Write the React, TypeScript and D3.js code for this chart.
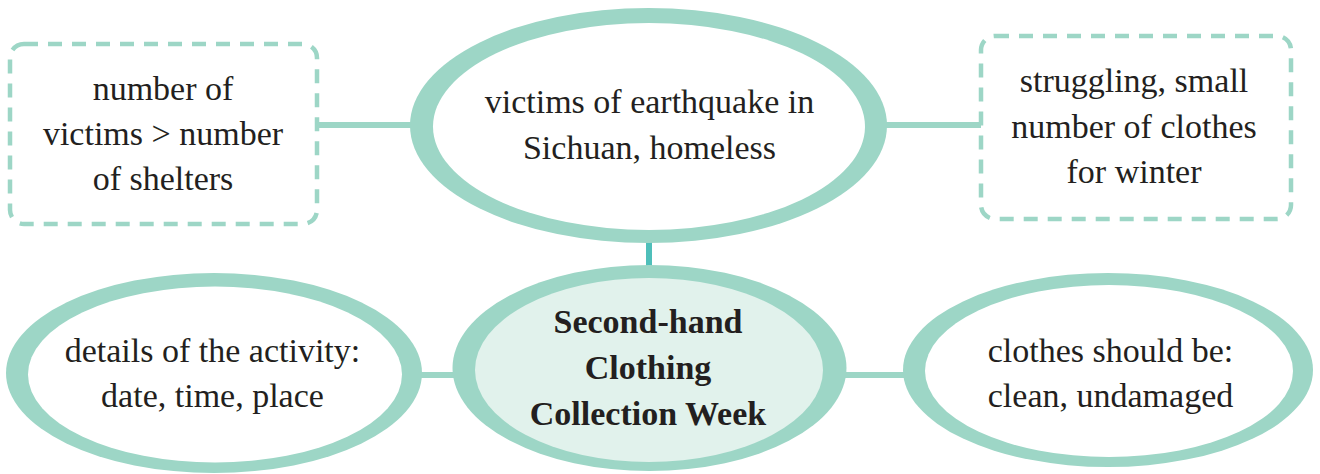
import React, { useEffect, useRef } from "react";
import * as d3 from "d3";

// ---- content ----
const boxLeftLines = ["number of", "victims > number", "of shelters"];
const boxRightLines = ["struggling, small", "number of clothes", "for winter"];
const topLines = ["victims of earthquake in", "Sichuan, homeless"];
const centerLines = ["Second-hand", "Clothing", "Collection Week"];
const bottomLeftLines = ["details of the activity:", "date, time, place"];
const bottomRightLines = ["clothes should be:", "clean, undamaged"];

const W = 1320;
const H = 474;
const TEAL = "#9dd6c6";
const DARK_TEAL = "#4fbfba";
const INK = "#231f20";
const FONT = '"Liberation Serif", "Times New Roman", monospace';

type Ring = { cx: number; cy: number; orx: number; ory: number; icx: number; icy: number; irx: number; iry: number; fill: string };

const rings: Ring[] = [
  { cx: 648.5, cy: 125.5, orx: 238.5, ory: 117.5, icx: 649, icy: 126.5, irx: 216, iry: 103.5, fill: "#ffffff" },
  { cx: 649.5, cy: 368, orx: 197, ory: 103, icx: 649, icy: 370, irx: 174, iry: 92, fill: "#e1f2ec" },
  { cx: 214, cy: 373, orx: 208, ory: 100, icx: 215, icy: 374.5, irx: 187, iry: 88, fill: "#ffffff" },
  { cx: 1108, cy: 370, orx: 205, ory: 97, icx: 1109, icy: 371, irx: 184, iry: 86, fill: "#ffffff" },
];

const blocks = [
  { lines: boxLeftLines, x: 163, y0: 100, step: 45, bold: false },
  { lines: boxRightLines, x: 1134, y0: 92, step: 45.5, bold: false },
  { lines: topLines, x: 649.5, y0: 113, step: 46, bold: false },
  { lines: centerLines, x: 648, y0: 333, step: 46, bold: true },
  { lines: bottomLeftLines, x: 212.5, y0: 362, step: 45, bold: false },
  { lines: bottomRightLines, x: 1110.5, y0: 362, step: 45, bold: false },
];

export default function App() {
  const ref = useRef<SVGGElement>(null);
  useEffect(() => {
    const g = d3.select(ref.current);
    g.selectAll("*").remove();
    blocks.forEach((b) => {
      const y = d3.scaleLinear().domain([0, 1]).range([b.y0, b.y0 + b.step]);
      g.append("g")
        .selectAll("text")
        .data(b.lines)
        .join("text")
        .attr("x", b.x)
        .attr("y", (_d, i) => y(i))
        .attr("text-anchor", "middle")
        .attr("fill", INK)
        .style("font-family", FONT)
        .style("font-size", "34px")
        .style("font-weight", b.bold ? "700" : "400")
        .text((d) => d);
    });
  }, []);

  return (
    <div style={{ position: "absolute", left: 0, top: 0 }}>
      <svg width={W} height={H} style={{ display: "block", background: "#ffffff" }}>
        {/* connectors */}
        <line x1={318} x2={420} y1={125} y2={125} stroke={TEAL} strokeWidth={6} />
        <line x1={880} x2={982} y1={125} y2={125} stroke={TEAL} strokeWidth={6} />
        <line x1={415} x2={460} y1={375} y2={375} stroke={TEAL} strokeWidth={6} />
        <line x1={840} x2={910} y1={375} y2={375} stroke={TEAL} strokeWidth={6} />
        <line x1={649} x2={649} y1={238} y2={270} stroke={DARK_TEAL} strokeWidth={6} />

        {/* dashed boxes */}
        <rect x={10} y={44} width={307} height={180} rx={14} ry={14} fill="#ffffff" stroke={TEAL} strokeWidth={4.5} strokeDasharray="14 10" />
        <rect x={981} y={36} width={310} height={183} rx={14} ry={14} fill="#ffffff" stroke={TEAL} strokeWidth={4.5} strokeDasharray="14 10" />

        {/* rings */}
        {rings.map((r, i) => (
          <g key={i}>
            <ellipse cx={r.cx} cy={r.cy} rx={r.orx} ry={r.ory} fill={TEAL} />
            <ellipse cx={r.icx} cy={r.icy} rx={r.irx} ry={r.iry} fill={r.fill} />
          </g>
        ))}

        <g ref={ref} />
      </svg>
    </div>
  );
}
